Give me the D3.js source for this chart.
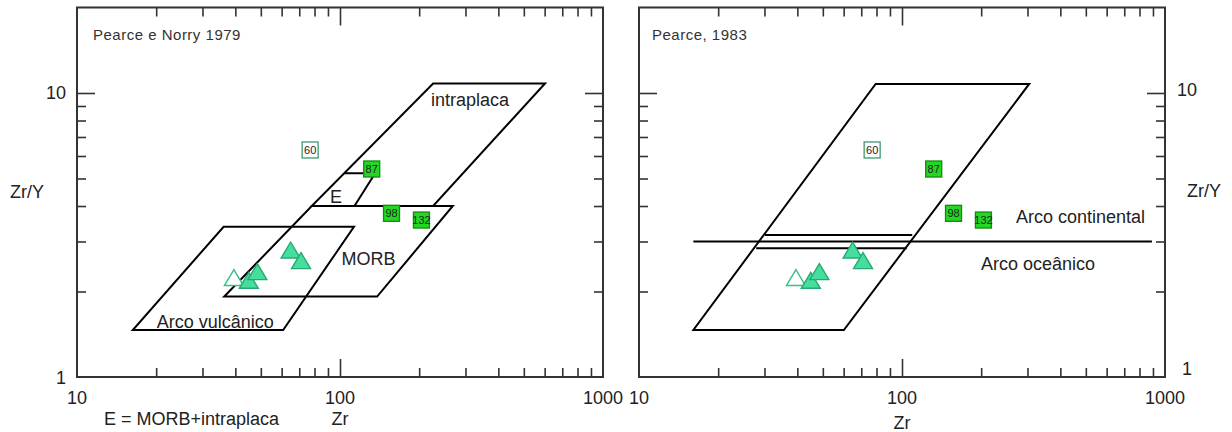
<!DOCTYPE html>
<html><head><meta charset="utf-8">
<script src="https://cdn.jsdelivr.net/npm/d3@7"></script>
<style>
body{margin:0;background:#fff;}
svg{display:block;font-family:"Liberation Sans",Arial,Helvetica,sans-serif;}
</style></head><body>
<svg id="chart" width="1232" height="432"></svg>
<script>
// ---- axes ----
const xDomain = [10, 1000];
const yDomain = [1, 20];
const xMinorTicks = [20,30,40,50,60,70,80,90,200,300,400,500,600,700,800,900];
const xMajorTicks = [100];
const yMinorTicks = [2,3,4,5,6,7,8,9];
const yMajorTicks = [10];
const xTickLabels = [10, 100, 1000];
const yTickLabels = [1, 10];

// ---- samples ----
const sqLabels = ["60", "87", "98", "132"];
const sqZr     = [77, 132, 157, 204];
const sqZrY    = [6.3, 5.4, 3.77, 3.57];
const sqFilled = [false, true, true, true];

const triZr     = [39.5, 45, 48.5, 64.9, 71.1];
const triZrY    = [2.24, 2.19, 2.35, 2.80, 2.57];
const triFilled = [false, true, true, true, true];

// ---- Pearce e Norry 1979 fields (Zr, Zr/Y) ----
const fieldIntraplaca     = [[226,10.8],[602,10.8],[226,4.0],[78.1,4.0]];
const fieldMORB           = [[78.1,4.0],[268.5,4.0],[138.4,1.92],[36.3,1.92]];
const fieldArcoVulcanico  = [[36.1,3.38],[113,3.38],[60.8,1.464],[16.3,1.464]];
const lineE               = [[104,5.22],[136,5.22],[113.5,4.0]];
const labelsLeftText = ["intraplaca", "E", "MORB", "Arco vulcânico"];
const labelsLeftPos  = [[221.8,9.0],[91.6,4.10],[101.3,2.48],[20.1,1.488]];

// ---- Pearce 1983 fields ----
const fieldArc83    = [[79.4,10.76],[304.6,10.76],[60.1,1.464],[16.1,1.464]];
const lineArcDivide = [[16.1,3.0],[892,3.0]];
const lineArcUpper  = [[30.1,3.16],[109.4,3.16]];
const lineArcLower  = [[27.9,2.84],[104.2,2.84]];
const labelsRightText = ["Arco continental", "Arco oceânico"];
const labelsRightPos  = [[271.4,3.485],[199.7,2.381]];

const svg = d3.select("#chart");
const INK = "#222";
const FRAME = "#333";

function panel(x0, x1, opts) {
  const x = d3.scaleLog().domain(xDomain).range([x0, x1]);
  const y = d3.scaleLog().domain(yDomain).range([377, 7.5]);
  const g = svg.append("g");
  const line = d3.line().x(d => x(d[0])).y(d => y(d[1]));
  const clean = s => s.call(a => a.select(".domain").remove())
                      .call(a => a.selectAll(".tick line").attr("stroke", FRAME).attr("stroke-width", 1.6));

  // ticks (inward)
  const [Y0, Y1] = y.range();
  [[xMinorTicks, 9], [xMajorTicks, 18]].forEach(([tv, s]) => {
    g.append("g").attr("transform", `translate(0,${Y0})`)
      .call(d3.axisBottom(x).tickValues(tv).tickSize(-s).tickFormat("")).call(clean);
    g.append("g").attr("transform", `translate(0,${Y1})`)
      .call(d3.axisTop(x).tickValues(tv).tickSize(-s).tickFormat("")).call(clean);
  });
  [[yMinorTicks, 9], [yMajorTicks, 18]].forEach(([tv, s]) => {
    g.append("g").attr("transform", `translate(${x0},0)`)
      .call(d3.axisLeft(y).tickValues(tv).tickSize(-s).tickFormat("")).call(clean);
    g.append("g").attr("transform", `translate(${x1},0)`)
      .call(d3.axisRight(y).tickValues(tv).tickSize(-s).tickFormat("")).call(clean);
  });
  // frame
  g.append("rect").attr("x", x0).attr("y", Y1).attr("width", x1 - x0).attr("height", Y0 - Y1)
    .attr("fill", "none").attr("stroke", FRAME).attr("stroke-width", 2);

  // x tick labels
  g.selectAll(null).data(xTickLabels).join("text")
    .attr("x", d => x(d)).attr("y", 404).attr("text-anchor", "middle")
    .attr("font-size", 18).attr("fill", INK).text(d => d);

  // fields
  const fg = g.append("g").attr("fill", "none").attr("stroke", "#000").attr("stroke-width", 2)
    .attr("stroke-linejoin", "miter");
  opts.polygons.forEach(p => fg.append("path").attr("d", line(p) + "Z"));
  opts.lines.forEach(p => fg.append("path").attr("d", line(p)));

  // field labels
  g.selectAll(null).data(opts.labelText).join("text")
    .attr("x", (d, i) => x(opts.labelPos[i][0])).attr("y", (d, i) => y(opts.labelPos[i][1]))
    .attr("font-size", 18).attr("fill", INK).text(d => d);

  // triangles
  const tw = 19, th = 16;
  const triPath = `M0,${-th/2}L${tw/2},${th/2}L${-tw/2},${th/2}Z`;
  g.selectAll(null).data(triZr).join("path")
    .attr("transform", (d, i) => `translate(${x(d)},${y(triZrY[i])})`)
    .attr("d", triPath)
    .attr("fill", (d, i) => triFilled[i] ? "#45de9c" : "#fff")
    .attr("stroke", (d, i) => triFilled[i] ? "#2aa874" : "#38c088")
    .attr("stroke-width", 1.4);

  // squares
  const ss = 16;
  const sq = g.selectAll(null).data(sqZr).join("g")
    .attr("transform", (d, i) => `translate(${x(d)},${y(sqZrY[i])})`);
  sq.append("rect").attr("x", -ss/2).attr("y", -ss/2).attr("width", ss).attr("height", ss)
    .attr("fill", (d, i) => sqFilled[i] ? "#22d822" : "#fff")
    .attr("stroke", (d, i) => sqFilled[i] ? "#138a13" : "#3d9a6e")
    .attr("stroke-width", 1.3);
  sq.append("text").attr("text-anchor", "middle").attr("y", 4).attr("font-size", 11)
    .attr("fill", "#222").text((d, i) => sqLabels[i]);

  return {x, y, g};
}

// ---- left panel ----
const L = panel(77, 603, {
  polygons: [fieldIntraplaca, fieldMORB, fieldArcoVulcanico],
  lines: [lineE],
  labelText: labelsLeftText, labelPos: labelsLeftPos
});
L.g.selectAll(null).data(yTickLabels).join("text")
  .attr("x", 66).attr("y", d => L.y(d) + 6.5).attr("text-anchor", "end")
  .attr("font-size", 18).attr("fill", INK).text(d => d);
L.g.append("text").attr("x", 93).attr("y", 40).attr("font-size", 15).attr("fill", "#333")
  .attr("letter-spacing", 0.5).text("Pearce e Norry 1979");
L.g.append("text").attr("x", 10).attr("y", 198).attr("font-size", 18).attr("fill", INK).text("Zr/Y");
L.g.append("text").attr("x", L.x(100)).attr("y", 425).attr("text-anchor", "middle")
  .attr("font-size", 18).attr("fill", INK).text("Zr");
L.g.append("text").attr("x", 104).attr("y", 425).attr("font-size", 18).attr("fill", INK)
  .text("E = MORB+intraplaca");

// ---- right panel ----
const R = panel(639, 1165, {
  polygons: [fieldArc83],
  lines: [lineArcDivide, lineArcUpper, lineArcLower],
  labelText: labelsRightText, labelPos: labelsRightPos
});
R.g.selectAll(null).data(yTickLabels).join("text")
  .attr("x", 1187).attr("y", d => R.y(d) + 6.5 - (d === 1 ? 9 : 3)).attr("text-anchor", "middle")
  .attr("font-size", 18).attr("fill", INK).text(d => d);
R.g.append("text").attr("x", 652).attr("y", 40).attr("font-size", 15).attr("fill", "#333")
  .attr("letter-spacing", 0.5).text("Pearce, 1983");
R.g.append("text").attr("x", 1187).attr("y", 197).attr("font-size", 18).attr("fill", INK).text("Zr/Y");
R.g.append("text").attr("x", R.x(100)).attr("y", 429).attr("text-anchor", "middle")
  .attr("font-size", 18).attr("fill", INK).text("Zr");
</script>
</body></html>
